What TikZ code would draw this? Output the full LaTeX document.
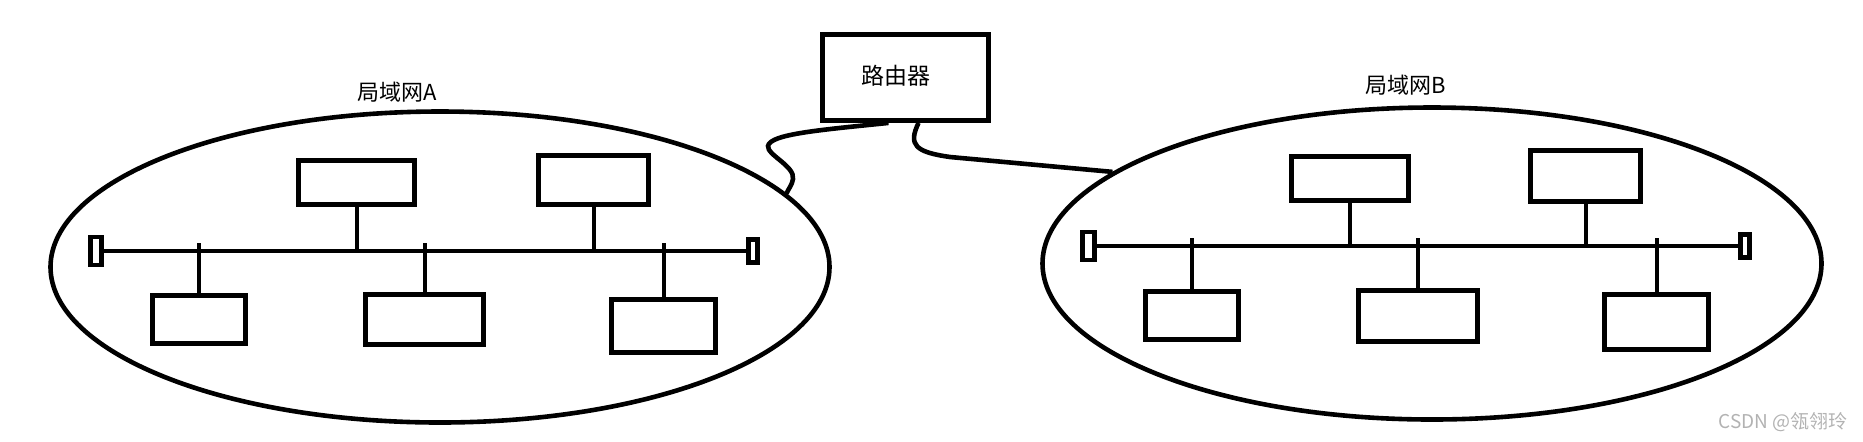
\documentclass[tikz,border=0pt]{standalone}
\usepackage{fontspec}
\newfontfamily\cjk{Noto Sans CJK SC}
\usetikzlibrary{shapes.geometric,calc}
\begin{document}
\begin{tikzpicture}[x=0.5pt,y=-0.5pt,
  box/.style={draw, rectangle, inner sep=0pt, line width=2.4pt},
  lan/.style={draw, ellipse, inner sep=0pt, line width=2.3pt},
  wire/.style={line width=2.3pt},
  stem/.style={line width=2pt},
  lbl/.style={font=\cjk\fontsize{11pt}{13pt}\selectfont, inner sep=0pt}]
\useasboundingbox (0,0) rectangle (1863,441);

% LAN ellipses
\node[lan, minimum width=389.5pt, minimum height=155.5pt] (eA) at (440,267) {};
\node[lan, minimum width=389.5pt, minimum height=156pt] (eB) at (1432,263.5) {};
\node[lbl] (labA) at (397,92) {局域网A};
\node[lbl] (labB) at (1406,85) {局域网B};

% router
\node[box, minimum width=83pt, minimum height=43pt] (router) at (905.5,77.5) {};
\node[lbl, font=\cjk\fontsize{11.5pt}{13pt}\selectfont] (rtext) at (896,76) {路由器};

% cables
\draw[wire] ([xshift=-8.5pt]router.south) .. controls (820,130) and (770,134) .. (768,146)
   .. controls (767,155) and (795,166) .. (793,179)
   .. controls (792,185) and (789,188) .. (eA.12.4);
\draw[wire] ([xshift=6.5pt]router.south) .. controls (908,145) and (915,152) .. (950,157) -- (eB.164);

% ---------- LAN A ----------
\node[box, minimum width=5.5pt, minimum height=14pt] (tAl) at (96,251) {};
\node[box, minimum width=4.5pt, minimum height=11.5pt] (tAr) at (753,251) {};
\draw[wire] (tAl) -- (tAr);
\node[box, minimum width=58pt, minimum height=22pt] (a1) at (356.5,182.5) {};
\node[box, minimum width=55pt, minimum height=24.5pt] (a2) at (593.5,180) {};
\node[box, minimum width=46.5pt, minimum height=24pt] (a3) at (199,319.5) {};
\node[box, minimum width=59pt, minimum height=25pt] (a4) at (424.5,319.5) {};
\node[box, minimum width=52pt, minimum height=26.5pt] (a5) at (663.5,326) {};
\draw[stem] (a1.south) -- (a1.south |- tAl);
\draw[stem] (a2.south) -- (a2.south |- tAl);
\draw[stem] (a3.north) -- ($(a3.north |- tAl)+(0,-8)$);
\draw[stem] (a4.north) -- ($(a4.north |- tAl)+(0,-8)$);
\draw[stem] (a5.north) -- ($(a5.north |- tAl)+(0,-8)$);

% ---------- LAN B ----------
\node[box, minimum width=6pt, minimum height=14pt] (tBl) at (1088.5,246) {};
\node[box, minimum width=4.5pt, minimum height=11.5pt] (tBr) at (1745,246) {};
\draw[wire] (tBl) -- (tBr);
\node[box, minimum width=58.5pt, minimum height=22pt] (b1) at (1350,178.5) {};
\node[box, minimum width=55pt, minimum height=25.5pt] (b2) at (1585.5,176) {};
\node[box, minimum width=46.5pt, minimum height=24pt] (b3) at (1192,315.5) {};
\node[box, minimum width=59.5pt, minimum height=25.5pt] (b4) at (1418,316) {};
\node[box, minimum width=52pt, minimum height=27.5pt] (b5) at (1656.5,322) {};
\draw[stem] (b1.south) -- (b1.south |- tBl);
\draw[stem] (b2.south) -- (b2.south |- tBl);
\draw[stem] (b3.north) -- ($(b3.north |- tBl)+(0,-8)$);
\draw[stem] (b4.north) -- ($(b4.north |- tBl)+(0,-8)$);
\draw[stem] (b5.north) -- ($(b5.north |- tBl)+(0,-8)$);

% watermark
\node[font=\cjk\fontsize{9.5pt}{12pt}\selectfont, text=gray!60, inner sep=0pt, anchor=east] (wm) at (1848,422) {CSDN @瓴翎玲};
\end{tikzpicture}
\end{document}
